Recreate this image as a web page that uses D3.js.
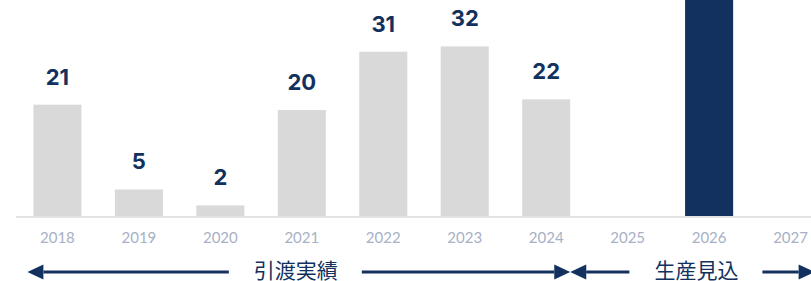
<!DOCTYPE html>
<html lang="ja">
  <head>
    <meta charset="UTF-8" />
    <title>引渡実績・生産見込</title>
    <script src="https://d3js.org/d3.v7.min.js"></script>
    <style>
      html, body { margin: 0; padding: 0; background: #fff; }
      svg { display: block; }
    </style>
  </head>
  <body>
    <svg width="811" height="281"></svg>
    <script>
      // data
      const years = ["2018", "2019", "2020", "2021", "2022", "2023", "2024", "2025", "2026", "2027"];
      const actual = [21, 5, 2, 20, 31, 32, 22, null, null, null];
      const forecast = [null, null, null, null, null, null, null, null, 45, null];
      const spans = [
        { label: "引渡実績", from: "2018", to: "2024" },
        { label: "生産見込", from: "2025", to: "2027" }
      ];

      const navy = "#12315e";
      const svg = d3.select("svg");
      const baseY = 216;

      let x = d3.scaleBand().domain(years).range([0, 848]).padding(0.41);
      let y = d3.scaleLinear().domain([0, 40.75]).range([baseY, 0]);

      // baseline
      svg.append("line")
        .attr("x1", 16).attr("x2", 811)
        .attr("y1", baseY + 1).attr("y2", baseY + 1)
        .attr("stroke", "#e3e3e3")
        .attr("stroke-width", 2);

      // grey bars (delivered)
      let rows = years.map((d, i) => ({ year: d, a: actual[i], f: forecast[i] }));

      svg.append("g")
        .selectAll("rect")
        .data(rows.filter((d) => d.a != null))
        .enter()
        .append("rect")
        .attr("x", (d) => x(d.year))
        .attr("width", x.bandwidth())
        .attr("y", (d) => y(d.a))
        .attr("height", (d) => baseY - y(d.a))
        .attr("fill", "#d9d9d9");

      svg.append("g")
        .selectAll("text")
        .data(rows.filter((d) => d.a != null))
        .enter()
        .append("text")
        .attr("x", (d) => x(d.year) + x.bandwidth() / 2)
        .attr("y", (d) => y(d.a) - 20)
        .attr("text-anchor", "middle")
        .attr("font-family", "Inter, 'Open Sans', sans-serif")
        .attr("font-weight", 700)
        .attr("font-size", 22)
        .attr("fill", navy)
        .text((d) => d.a);

      // forecast bar
      svg.append("g")
        .selectAll("rect")
        .data(rows.filter((d) => d.f != null))
        .enter()
        .append("rect")
        .attr("x", (d) => x(d.year))
        .attr("width", x.bandwidth())
        .attr("y", (d) => y(d.f))
        .attr("height", (d) => baseY - y(d.f))
        .attr("fill", navy);

      // x axis labels
      let xAxis = svg.append("g")
        .attr("transform", `translate(0,${baseY})`)
        .call(d3.axisBottom(x).tickSize(0).tickPadding(16));
      xAxis.select(".domain").remove();
      xAxis.selectAll("text")
        .attr("font-family", "Lato, 'Open Sans', sans-serif")
        .attr("font-size", 15)
        .attr("fill", "#a7b1c5");

      // span arrows
      const arrowY = 272;
      const head = 16, headH = 15;

      function arrowHead(tipX, dir) {
        // dir -1 points left, 1 points right
        let baseX = tipX - dir * head;
        svg.append("path")
          .attr("d", `M${tipX},${arrowY} L${baseX},${arrowY - headH / 2} L${baseX},${arrowY + headH / 2} Z`)
          .attr("fill", navy);
        return baseX;
      }

      spans.forEach((s, i) => {
        let x0 = x(s.from) - 6;
        let x1 = x(s.to) + x.bandwidth();
        if (i > 0) x0 = x(spans[i - 1].to) + x.bandwidth();
        let mid = (x0 + x1) / 2 - (i === 0 ? 3 : -4);

        let t = svg.append("text")
          .attr("x", mid)
          .attr("y", arrowY)
          .attr("dy", "0.28em")
          .attr("text-anchor", "middle")
          .attr("font-family", "'Noto Sans CJK JP', sans-serif")
          .attr("font-size", 21)
          .attr("fill", navy)
          .text(s.label);
        let w = t.node().getComputedTextLength();

        let b0 = arrowHead(x0, -1);
        let b1 = arrowHead(x1, 1);

        svg.append("line")
          .attr("x1", b0).attr("x2", mid - w / 2 - 25)
          .attr("y1", arrowY).attr("y2", arrowY)
          .attr("stroke", navy).attr("stroke-width", 3);
        svg.append("line")
          .attr("x1", mid + w / 2 + 24).attr("x2", b1)
          .attr("y1", arrowY).attr("y2", arrowY)
          .attr("stroke", navy).attr("stroke-width", 3);
      });
    </script>
  </body>
</html>
